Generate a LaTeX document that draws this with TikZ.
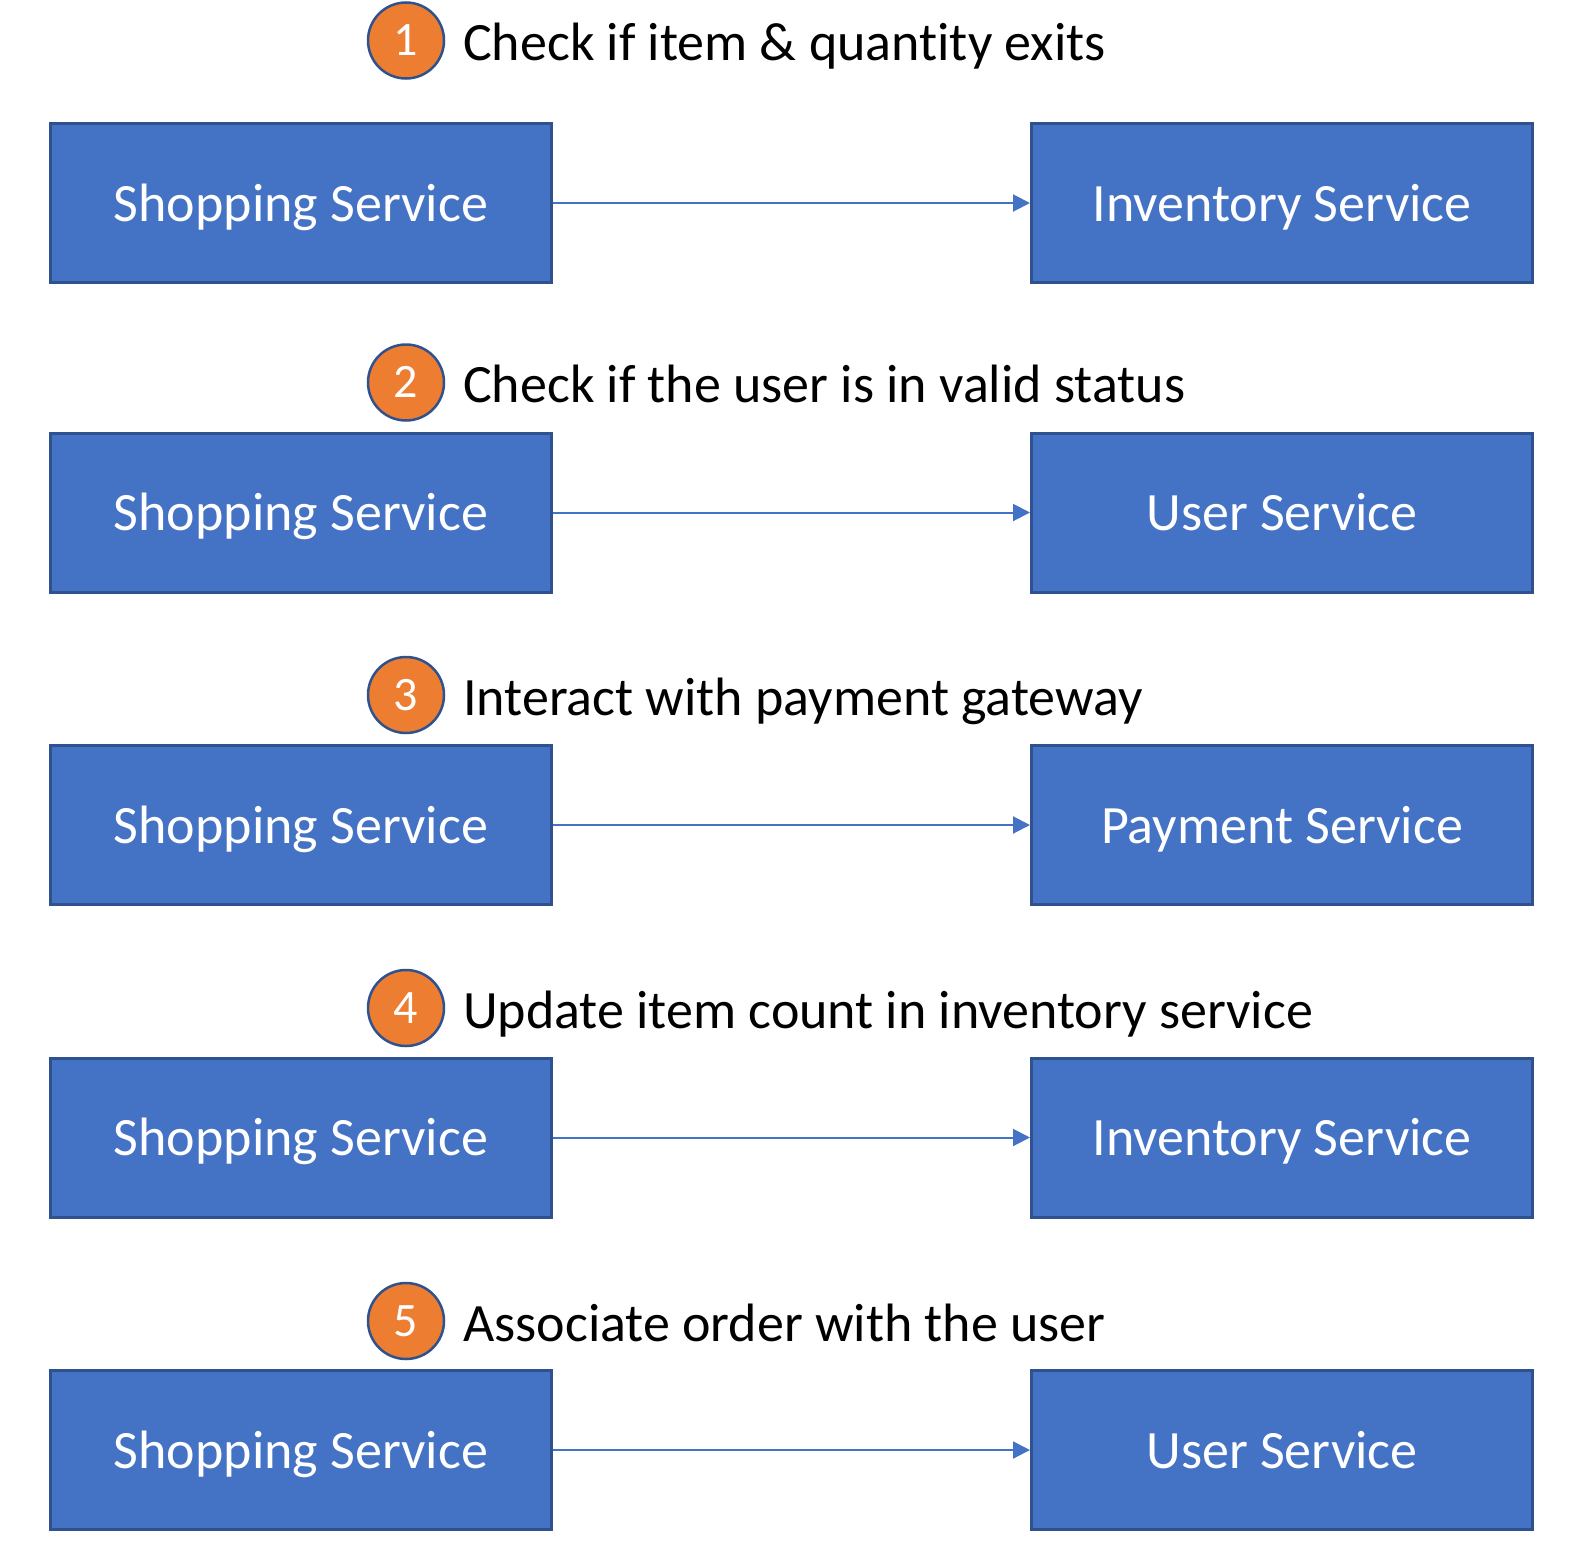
\documentclass[tikz,border=0pt]{standalone}
\usepackage{fontspec}
\setmainfont[Ligatures=NoCommon]{Carlito}
\usetikzlibrary{arrows.meta}
\definecolor{boxfill}{HTML}{4472C4}
\definecolor{boxline}{HTML}{2F528F}
\definecolor{numfill}{HTML}{ED7D31}
\tikzset{
  svcbox/.style={draw=boxline, line width=3pt, fill=boxfill, minimum width=501pt, minimum height=159pt, inner sep=0pt, text height=36pt, text depth=0pt, text=white, font=\fontsize{54}{60}\selectfont},
  numcirc/.style={circle, draw=boxline, line width=2.5pt, fill=numfill, minimum size=76pt, inner sep=0pt, text height=30.3pt, text depth=0pt, text=white, font=\fontsize{48}{54}\selectfont},
  steplabel/.style={anchor=base west, inner sep=0pt, font=\fontsize{54}{60}\selectfont},
  flow/.style={draw=boxfill, line width=2pt, -{Triangle[length=17pt,width=17pt]}}
}
\begin{document}
\begin{tikzpicture}[x=1pt,y=-1pt]
\useasboundingbox (0,0) rectangle (1573,1547);
\foreach \i/\by/\cy/\txt/\right in {
  1/203/40.5/{Check if item \& quantity exits}/{Inventory Service},
  2/512.5/382.5/{Check if the user is in valid status}/{User Service},
  3/825/695/{Interact with payment gateway}/{Payment Service},
  4/1137.5/1008/{Update item count in inventory service}/{Inventory Service},
  5/1450/1321/{Associate order with the user}/{User Service}} {
  \node[svcbox] (s\i) at (301,\by) {Shopping Service};
  \node[svcbox] (t\i) at (1282,\by) {\right};
  \draw[flow] (s\i) -- (t\i);
  \node[numcirc] (n\i) at (406,\cy) {\i};
  \node[steplabel] (l\i) at (463,\cy+20) {\txt};
}
\end{tikzpicture}
\end{document}
